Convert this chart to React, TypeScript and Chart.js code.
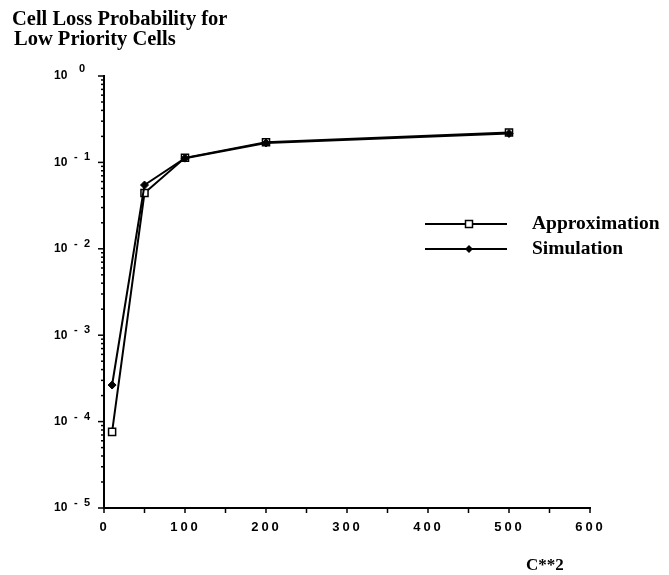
import React, { useEffect, useRef } from "react";
import { Chart, registerables } from "chart.js";

Chart.register(...registerables);

const xValues = [10, 50, 100, 200, 500];
const approximation = [7.6e-5, 0.0443, 0.113, 0.171, 0.222];
const simulation = [2.65e-4, 0.0547, 0.112, 0.168, 0.216];
const yTickExponents = [0, -1, -2, -3, -4, -5];
const xTickValues = [0, 100, 200, 300, 400, 500, 600];
const titleLines = ["Cell Loss Probability for", "Low Priority Cells"];
const xAxisTitle = "C**2";
const seriesNames = ["Approximation", "Simulation"];

const SERIF = "'Liberation Serif', 'Times New Roman', serif";
const SANS = "'Liberation Sans', Arial, sans-serif";

function drawSpaced(ctx: CanvasRenderingContext2D, text: string, cx: number, y: number, gap: number) {
  const widths = text.split("").map((c) => ctx.measureText(c).width);
  const total = widths.reduce((a, b) => a + b, 0) + gap * (text.length - 1);
  let x = cx - total / 2;
  ctx.textAlign = "left";
  text.split("").forEach((c, i) => {
    ctx.fillText(c, x, y);
    x += widths[i] + gap;
  });
}

function drawSquare(ctx: CanvasRenderingContext2D, x: number, y: number) {
  ctx.save();
  ctx.fillStyle = "#fff";
  ctx.strokeStyle = "#000";
  ctx.lineWidth = 1.5;
  ctx.fillRect(x - 3.5, y - 3.5, 7, 7);
  ctx.strokeRect(x - 3.5, y - 3.5, 7, 7);
  ctx.restore();
}

function drawDiamond(ctx: CanvasRenderingContext2D, x: number, y: number) {
  ctx.save();
  ctx.fillStyle = "#000";
  ctx.beginPath();
  ctx.moveTo(x - 4, y);
  ctx.lineTo(x, y - 4);
  ctx.lineTo(x + 4, y);
  ctx.lineTo(x, y + 4);
  ctx.closePath();
  ctx.fill();
  ctx.restore();
}

const decorPlugin = {
  id: "decor",
  afterDraw(chart: any) {
    const ctx: CanvasRenderingContext2D = chart.ctx;
    const xs = chart.scales.x;
    const ys = chart.scales.y;
    const left = chart.chartArea.left;
    const bottom = chart.chartArea.bottom;
    ctx.save();
    ctx.fillStyle = "#000";
    ctx.strokeStyle = "#000";

    // y ticks
    ctx.lineWidth = 1.5;
    for (const e of yTickExponents) {
      const py = ys.getPixelForValue(Math.pow(10, e));
      ctx.beginPath();
      ctx.moveTo(left - 6, py);
      ctx.lineTo(left, py);
      ctx.stroke();
      if (e > -5) {
        for (let k = 2; k <= 9; k++) {
          const my = ys.getPixelForValue(k * Math.pow(10, e - 1));
          ctx.beginPath();
          ctx.moveTo(left - 3, my);
          ctx.lineTo(left, my);
          ctx.stroke();
        }
      }
      ctx.textBaseline = "middle";
      ctx.textAlign = "left";
      ctx.font = `bold 12px ${SANS}`;
      ctx.fillText("10", 54, py);
      ctx.font = `bold 11px ${SANS}`;
      if (e === 0) {
        ctx.fillText("0", 79, py - 7);
      } else {
        ctx.fillText("-", 74, py - 5);
        ctx.fillText(String(-e), 84, py - 5);
      }
    }

    // x ticks
    for (let v = 0; v <= 600; v += 50) {
      const px = xs.getPixelForValue(v);
      ctx.beginPath();
      ctx.moveTo(px, bottom);
      ctx.lineTo(px, bottom + 5);
      ctx.stroke();
    }
    ctx.font = `bold 13px ${SANS}`;
    ctx.textBaseline = "middle";
    for (const v of xTickValues) {
      const px = xs.getPixelForValue(v);
      drawSpaced(ctx, String(v), px - 1, bottom + 19, 3);
    }

    // title
    ctx.font = `bold 20.5px ${SERIF}`;
    ctx.textAlign = "left";
    ctx.textBaseline = "alphabetic";
    ctx.fillText(titleLines[0], 12, 25);
    ctx.fillText(titleLines[1], 14, 45);

    // x axis title
    ctx.font = `bold 17px ${SERIF}`;
    ctx.fillText(xAxisTitle, 526, 570);

    // legend
    const legendY = [224, 249];
    ctx.lineWidth = 2;
    legendY.forEach((ly, i) => {
      ctx.beginPath();
      ctx.moveTo(425, ly);
      ctx.lineTo(507, ly);
      ctx.stroke();
      if (i === 0) drawSquare(ctx, 469, ly);
      else drawDiamond(ctx, 469, ly);
      ctx.font = `bold 19.5px ${SERIF}`;
      ctx.textBaseline = "middle";
      ctx.fillText(seriesNames[i], 532, ly);
    });
    ctx.restore();
  },
};

export default function App() {
  const ref = useRef<HTMLCanvasElement>(null);
  useEffect(() => {
    if (!ref.current) return;
    const chart = new Chart(ref.current, {
      type: "line",
      data: {
        datasets: [
          {
            label: seriesNames[1],
            data: xValues.map((x, i) => ({ x, y: simulation[i] })),
            borderColor: "#000",
            borderWidth: 2,
            pointStyle: "rectRot",
            pointRadius: 4,
            pointBackgroundColor: "#000",
            pointBorderColor: "#000",
            pointBorderWidth: 1,
            tension: 0,
          },
          {
            label: seriesNames[0],
            data: xValues.map((x, i) => ({ x, y: approximation[i] })),
            borderColor: "#000",
            borderWidth: 2,
            pointStyle: "rect",
            pointRadius: 5,
            pointBackgroundColor: "#fff",
            pointBorderColor: "#000",
            pointBorderWidth: 1.5,
            tension: 0,
          },
        ],
      },
      options: {
        animation: false,
        responsive: false,
        devicePixelRatio: 1,
        layout: { padding: { left: 96, right: 79, top: 76, bottom: 59 } },
        plugins: { legend: { display: false }, tooltip: { enabled: false }, title: { display: false } },
        scales: {
          x: {
            type: "linear",
            min: 0,
            max: 600,
            ticks: { display: false },
            grid: { display: false },
            border: { display: true, color: "#000", width: 2 },
          },
          y: {
            type: "logarithmic",
            min: 1e-5,
            max: 1,
            ticks: { display: false },
            grid: { display: false },
            border: { display: true, color: "#000", width: 2 },
          },
        },
      },
      plugins: [decorPlugin],
    });
    return () => chart.destroy();
  }, []);
  return (
    <div style={{ position: "fixed", left: 0, top: 0, width: 669, height: 575, background: "#fff" }}>
      <canvas ref={ref} width={669} height={575} style={{ display: "block" }} />
    </div>
  );
}
